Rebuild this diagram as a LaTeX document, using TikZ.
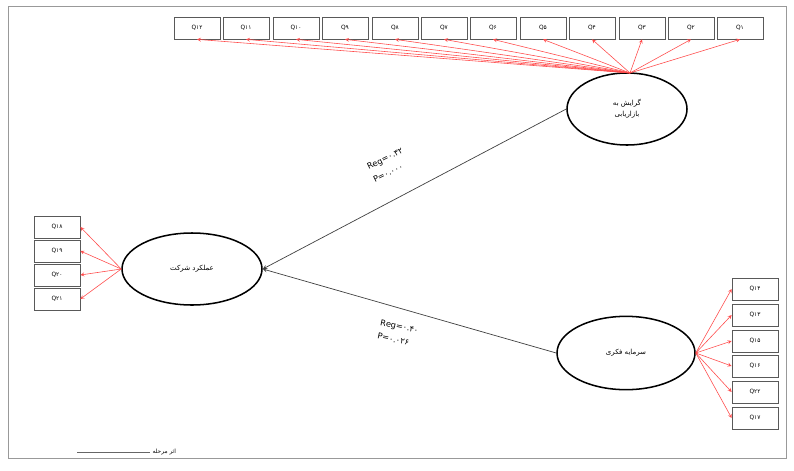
\documentclass[tikz,border=0pt]{standalone}
\usepackage{fontspec}
\usepackage{tikz}
\usetikzlibrary{shapes.geometric}
\TeXXeTstate=1
\newfontfamily\fa[Script=Arabic]{DejaVu Sans}

\begin{document}
\begin{tikzpicture}[x=0.03cm,y=-0.03cm,
    latent/.style={ellipse, draw=black, line width=1.3pt, inner sep=0pt,
      font=\fa\fontsize{6}{7.5}\selectfont, align=center},
    item/.style={draw=black!65, line width=0.6pt, minimum width=1.38cm,
      minimum height=0.66cm, inner sep=0pt, font=\fa\fontsize{5}{6}\selectfont},
    load/.style={-stealth, red!70, line width=0.5pt},
    effect/.style={-stealth, black!75, line width=0.6pt},
    coef/.style={font=\fa\fontsize{7}{9}\selectfont, align=left, inner sep=1pt}]
  \useasboundingbox (0,0) rectangle (794,470);
  \draw[black!40, line width=0.8pt] (8,6) rectangle (786,458);

  % latent variables
  \node[latent, minimum width=3.6cm, minimum height=2.16cm] (mkt) at (627,109)
    {\beginR گرایش به\endR\\[2pt]\beginR بازاریابی\endR};
  \node[latent, minimum width=4.2cm, minimum height=2.16cm] (perf) at (192,269)
    {\beginR عملکرد شرکت\endR};
  \node[latent, minimum width=4.14cm, minimum height=2.2cm] (cap) at (626,353)
    {\beginR سرمایه فکری\endR};

  % items of the first construct
  \node[item] (q12) at (197,28) {Q۱۲};
  \node[item] (q11) at (246,28) {Q۱۱};
  \node[item] (q10) at (296,28) {Q۱۰};
  \node[item] (q9) at (345,28) {Q۹};
  \node[item] (q8) at (395,28) {Q۸};
  \node[item] (q7) at (444,28) {Q۷};
  \node[item] (q6) at (493,28) {Q۶};
  \node[item] (q5) at (543,28) {Q۵};
  \node[item] (q4) at (592,28) {Q۴};
  \node[item] (q3) at (642,28) {Q۳};
  \node[item] (q2) at (691,28) {Q۲};
  \node[item] (q1) at (740,28) {Q۱};

  % items of the dependent construct
  \node[item] (q18) at (57,227) {Q۱۸};
  \node[item] (q19) at (57,251) {Q۱۹};
  \node[item] (q20) at (57,275) {Q۲۰};
  \node[item] (q21) at (57,299) {Q۲۱};

  % items of the third construct
  \node[item] (q14) at (755,289) {Q۱۴};
  \node[item] (q13) at (755,315) {Q۱۳};
  \node[item] (q15) at (755,341) {Q۱۵};
  \node[item] (q16) at (755,366) {Q۱۶};
  \node[item] (q22) at (755,392) {Q۲۲};
  \node[item] (q17) at (755,418) {Q۱۷};

  \coordinate (mktTop) at (630,73);

  \draw[load] (mktTop) -- (q12.south);
  \draw[load] (mktTop) -- (q11.south);
  \draw[load] (mktTop) -- (q10.south);
  \draw[load] (mktTop) -- (q9.south);
  \draw[load] (mktTop) -- (q8.south);
  \draw[load] (mktTop) -- (q7.south);
  \draw[load] (mktTop) -- (q6.south);
  \draw[load] (mktTop) -- (q5.south);
  \draw[load] (mktTop) -- (q4.south);
  \draw[load] (mktTop) -- (q3.south);
  \draw[load] (mktTop) -- (q2.south);
  \draw[load] (mktTop) -- (q1.south);

  \draw[load] (perf.west) -- (q18.east);
  \draw[load] (perf.west) -- (q19.east);
  \draw[load] (perf.west) -- (q20.east);
  \draw[load] (perf.west) -- (q21.east);

  \draw[load] (cap.east) -- (q14.west);
  \draw[load] (cap.east) -- (q13.west);
  \draw[load] (cap.east) -- (q15.west);
  \draw[load] (cap.east) -- (q16.west);
  \draw[load] (cap.east) -- (q22.west);
  \draw[load] (cap.east) -- (q17.west);

  % structural paths
  \draw[effect] (mkt.west) -- (perf.east);
  \draw[effect] (cap.west) -- (perf.east);

  \node[coef, rotate=26] (c1) at (388,165) {Reg=۰.۳۲\\[3pt]P=۰.۰۰۰};
  \node[coef, rotate=-12] (c2) at (398,333) {Reg=۰.۴۰\\[3pt]P=۰.۰۲۶};

  % legend
  \coordinate (lgA) at (77,452);
  \coordinate (lgB) at (150,452);
  \draw[black!60, line width=0.6pt] (lgA) -- (lgB);
  \node[anchor=west, font=\fa\fontsize{5}{6}\selectfont, inner sep=2pt] (lgtext) at (lgB)
    {\beginR اثر مرحله\endR};
\end{tikzpicture}
\end{document}
